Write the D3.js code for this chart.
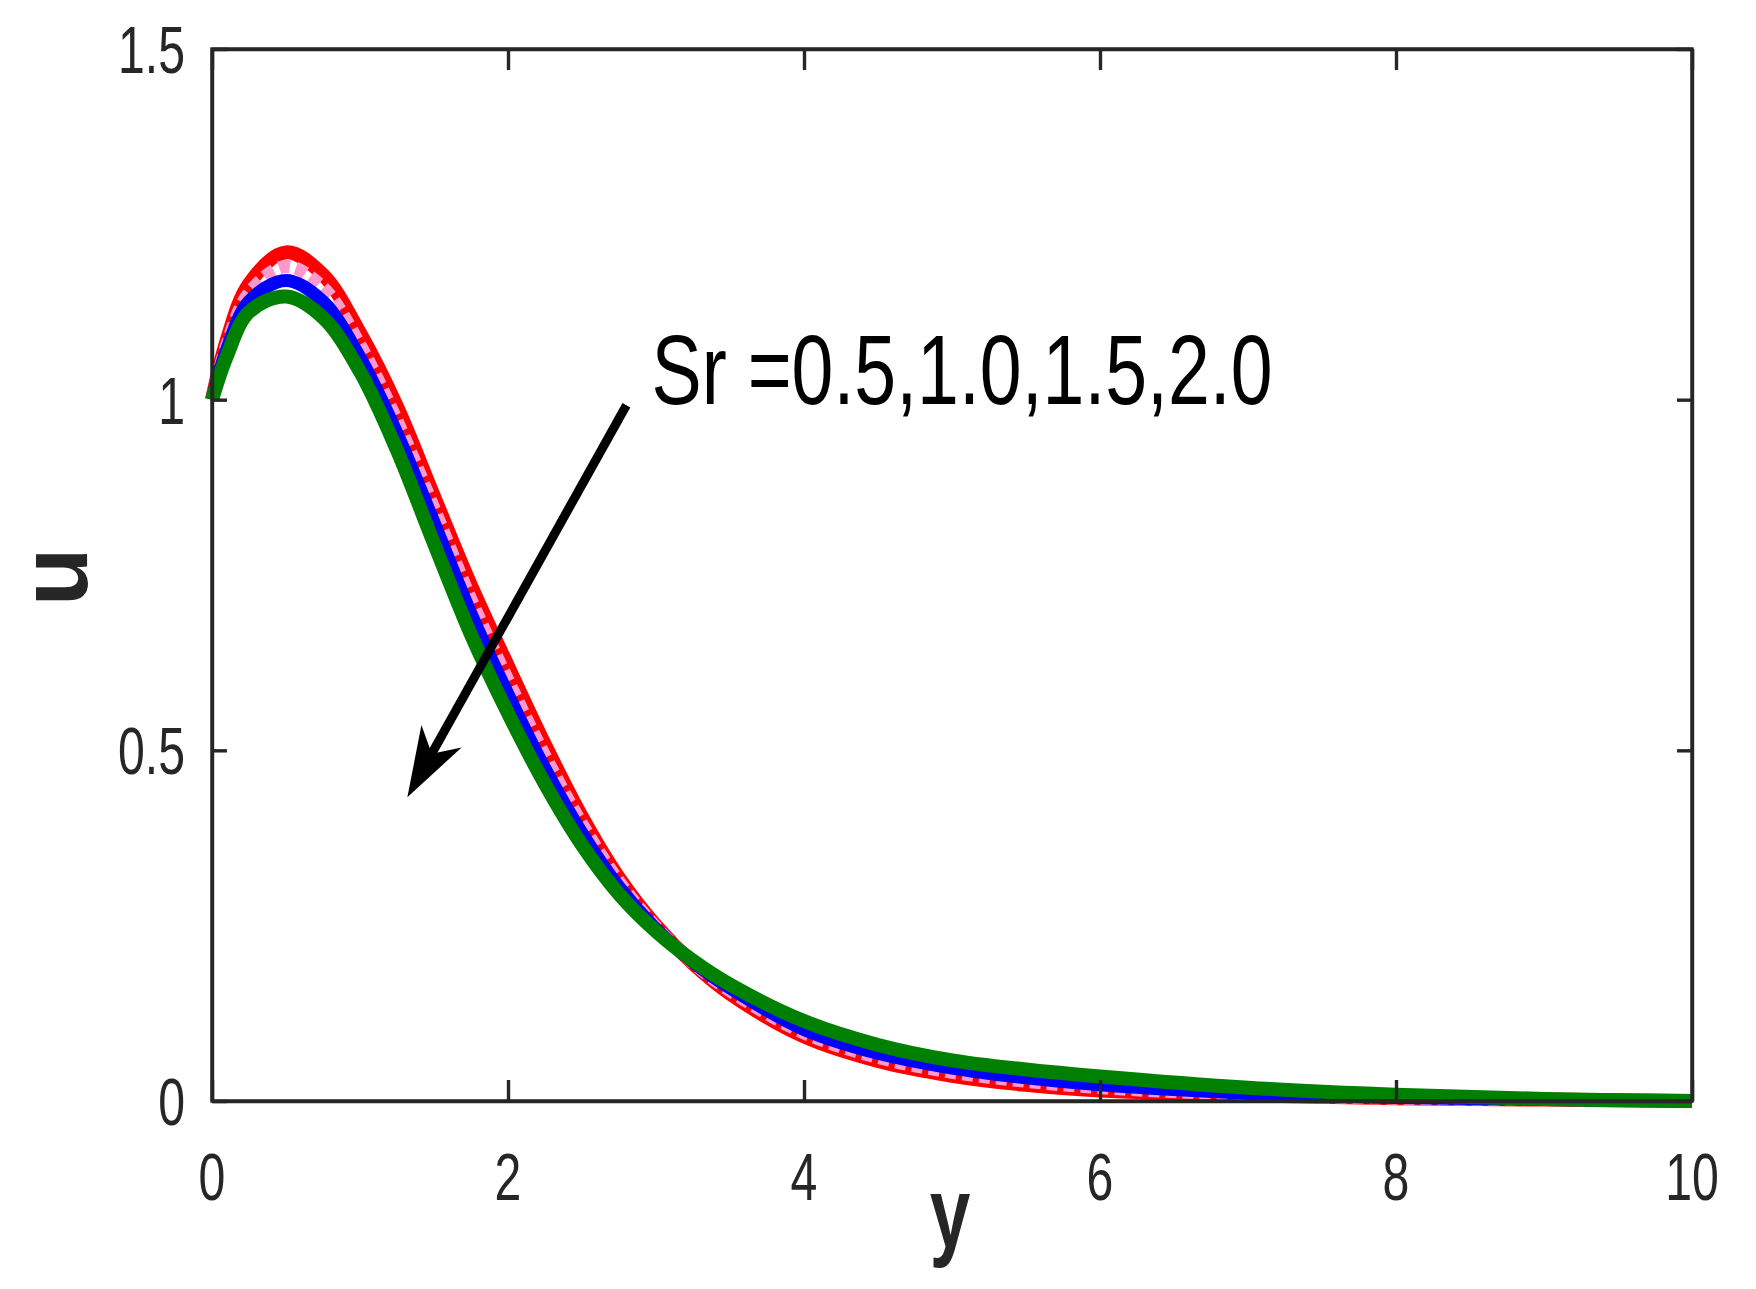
<!DOCTYPE html>
<html>
<head>
<meta charset="utf-8">
<script src="https://cdn.jsdelivr.net/npm/d3@7/dist/d3.min.js"></script>
<style>
  html, body { margin: 0; padding: 0; background: #fff; }
  svg { display: block; }
  text { font-family: 'Liberation Sans', Arial, sans-serif; fill: #262626; }
</style>
</head>
<body>
<svg id="chart"></svg>
<script>
// y positions (x axis) and velocity u for each Sr value
const yVals = [0, 0.1, 0.25, 0.5, 0.75, 1, 1.25, 1.5, 1.75, 2, 2.25, 2.5, 2.75, 3, 3.25, 3.5, 4, 4.5, 5, 5.5, 6, 7, 8, 9, 10];
const uSr05 = [1.0, 1.085, 1.165, 1.21, 1.178, 1.095, 0.99, 0.862, 0.735, 0.62, 0.508, 0.405, 0.318, 0.25, 0.196, 0.153, 0.092, 0.057, 0.036, 0.023, 0.015, 0.008, 0.004, 0.002, 0];
const uSr10 = [1.0, 1.078, 1.152, 1.19, 1.16, 1.078, 0.97, 0.845, 0.715, 0.60, 0.492, 0.395, 0.313, 0.248, 0.197, 0.157, 0.097, 0.062, 0.041, 0.028, 0.019, 0.009, 0.004, 0.002, 0];
const uSr15 = [1.0, 1.072, 1.14, 1.17, 1.14, 1.06, 0.952, 0.825, 0.695, 0.58, 0.474, 0.382, 0.305, 0.245, 0.198, 0.161, 0.102, 0.068, 0.047, 0.033, 0.023, 0.011, 0.005, 0.002, 0];
const uSr20 = [1.0, 1.062, 1.125, 1.147, 1.117, 1.04, 0.928, 0.795, 0.665, 0.553, 0.452, 0.365, 0.295, 0.242, 0.200, 0.166, 0.114, 0.08, 0.058, 0.045, 0.035, 0.019, 0.009, 0.003, 0];

const xTicks = [0, 2, 4, 6, 8, 10];
const yTicks = [0, 0.5, 1, 1.5];
const yTickLabels = ['0', '0.5', '1', '1.5'];

const annotationText = 'Sr =0.5,1.0,1.5,2.0';
const annotationPos = [2.97, 0.994];
const arrowFrom = [2.80, 0.992];
const arrowTo = [1.32, 0.433];

const series = [
  {values: uSr05, color: '#ff0000', width: 14, dash: null},
  {values: uSr10, color: '#ff99cc', width: 13, dash: '11,6'},
  {values: uSr15, color: '#0000ff', width: 13, dash: null},
  {values: uSr20, color: '#008000', width: 14, dash: null},
];

const width = 1756;
const height = 1289;
const margin = {left: 212, right: 64, top: 49, bottom: 188};
const axisColor = '#262626';

const svg = d3.select('#chart')
    .attr('width', width)
    .attr('height', height);

svg.append('rect')
    .attr('width', width)
    .attr('height', height)
    .attr('fill', '#fff');

const x = d3.scaleLinear()
    .domain([0, 10])
    .range([margin.left, width - margin.right]);

const y = d3.scaleLinear()
    .domain([0, 1.5])
    .range([height - margin.bottom, margin.top]);

// curves
const line = d3.line()
    .x((d) => x(d[0]))
    .y((d) => y(d[1]))
    .curve(d3.curveCatmullRom.alpha(0.5));

series.forEach(function(s) {
  svg.append('path')
      .datum(yVals.map((v, i) => [v, s.values[i]]))
      .attr('fill', 'none')
      .attr('stroke', s.color)
      .attr('stroke-width', s.width)
      .attr('stroke-linejoin', 'round')
      .attr('stroke-dasharray', s.dash)
      .attr('d', line);
});

// axes box with inward ticks on all four sides
const xTickLen = 21;
const yTickLen = 15;

const bottomAxis = svg.append('g')
    .attr('transform', 'translate(0,' + y(0) + ')')
    .call(d3.axisBottom(x).tickValues(xTicks).tickSize(-xTickLen).tickSizeOuter(0).tickFormat(''));
const topAxis = svg.append('g')
    .attr('transform', 'translate(0,' + y(1.5) + ')')
    .call(d3.axisTop(x).tickValues(xTicks).tickSize(-xTickLen).tickSizeOuter(0).tickFormat(''));
const leftAxis = svg.append('g')
    .attr('transform', 'translate(' + x(0) + ',0)')
    .call(d3.axisLeft(y).tickValues(yTicks).tickSize(-yTickLen).tickSizeOuter(0).tickFormat(''));
const rightAxis = svg.append('g')
    .attr('transform', 'translate(' + x(10) + ',0)')
    .call(d3.axisRight(y).tickValues(yTicks).tickSize(-yTickLen).tickSizeOuter(0).tickFormat(''));

[bottomAxis, topAxis, leftAxis, rightAxis].forEach(function(g) {
  g.select('.domain').attr('stroke', axisColor).attr('stroke-width', 3.4);
  g.selectAll('.tick line').attr('stroke', axisColor).attr('stroke-width', 3.4);
});

svg.append('rect')
    .attr('x', x(0))
    .attr('y', y(1.5))
    .attr('width', x(10) - x(0))
    .attr('height', y(0) - y(1.5))
    .attr('fill', 'none')
    .attr('stroke', axisColor)
    .attr('stroke-width', 3.4);

// tick labels (the figure's font is tall and narrow)
const tickFont = 67;
const tickSquash = 0.72;

svg.selectAll('.xlab')
    .data(xTicks)
    .enter()
    .append('text')
    .attr('class', 'xlab')
    .attr('transform', (d) => 'translate(' + x(d) + ',1200) scale(' + tickSquash + ',1)')
    .attr('text-anchor', 'middle')
    .style('font-size', tickFont + 'px')
    .text((d) => d);

svg.selectAll('.ylab')
    .data(yTicks)
    .enter()
    .append('text')
    .attr('class', 'ylab')
    .attr('transform', (d) => 'translate(' + (x(0) - 27) + ',' + (y(d) + 24) + ') scale(' + tickSquash + ',1)')
    .attr('text-anchor', 'end')
    .style('font-size', tickFont + 'px')
    .text((d, i) => yTickLabels[i]);

// axis titles
svg.append('text')
    .attr('transform', 'translate(' + ((x(0) + x(10)) / 2 - 2) + ',1247) scale(0.73,1)')
    .attr('text-anchor', 'middle')
    .style('font-size', '100px')
    .style('font-weight', 'bold')
    .text('y');

// kept just inside the left edge so the glyph box is not clipped
svg.append('text')
    .attr('transform', 'translate(87,' + ((y(0) + y(1.5)) / 2 + 2) + ') rotate(-90)')
    .attr('text-anchor', 'middle')
    .style('font-size', '96px')
    .style('font-weight', 'bold')
    .text('u');

// annotation text and arrow
svg.append('text')
    .attr('transform', 'translate(' + x(annotationPos[0]) + ',' + y(annotationPos[1]) + ') scale(0.76,1)')
    .attr('text-anchor', 'start')
    .style('font-size', '99px')
    .style('fill', '#000')
    .text(annotationText);

const ax0 = x(arrowFrom[0]);
const ay0 = y(arrowFrom[1]);
const ax1 = x(arrowTo[0]);
const ay1 = y(arrowTo[1]);
const angle = Math.atan2(ay1 - ay0, ax1 - ax0) * 180 / Math.PI;
const len = Math.hypot(ax1 - ax0, ay1 - ay0);

const arrow = svg.append('g')
    .attr('transform', 'translate(' + ax0 + ',' + ay0 + ') rotate(' + angle + ')');

arrow.append('line')
    .attr('x1', 0)
    .attr('y1', 0)
    .attr('x2', len - 45)
    .attr('y2', 0)
    .attr('stroke', '#000')
    .attr('stroke-width', 9);

arrow.append('path')
    .attr('d', 'M' + len + ',0 L' + (len - 70) + ',-23 L' + (len - 50) + ',0 L' + (len - 70) + ',23 Z')
    .attr('fill', '#000');
</script>
</body>
</html>
